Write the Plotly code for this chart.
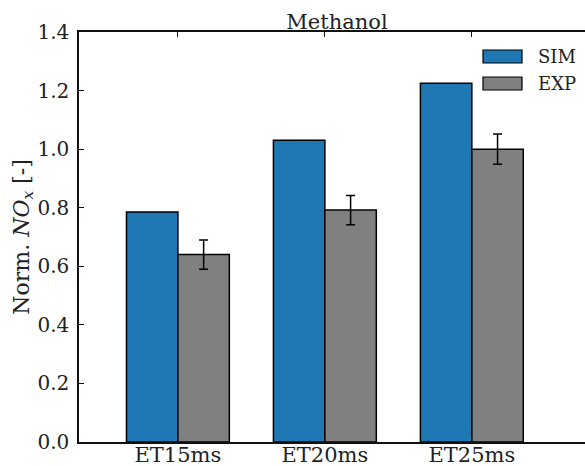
import plotly.graph_objects as go

categories = ["ET15ms", "ET20ms", "ET25ms"]
series_names = ["SIM", "EXP"]
sim_values = [0.785, 1.03, 1.225]
exp_values = [0.64, 0.792, 1.0]
exp_errors = [0.05, 0.05, 0.052]
y_ticks = [0.0, 0.2, 0.4, 0.6, 0.8, 1.0, 1.2, 1.4]
y_tick_labels = ["0.0", "0.2", "0.4", "0.6", "0.8", "1.0", "1.2", "1.4"]

colors = {"SIM": "#1f77b4", "EXP": "#808080"}
font_fam = "DejaVu Serif"

fig = go.Figure()
fig.add_trace(go.Bar(
    x=categories, y=sim_values, name=series_names[0],
    marker=dict(color=colors["SIM"], line=dict(color="black", width=1.5)),
    showlegend=False,
))
fig.add_trace(go.Bar(
    x=categories, y=exp_values, name=series_names[1],
    marker=dict(color=colors["EXP"], line=dict(color="black", width=1.5)),
    error_y=dict(type="data", array=exp_errors, color="black", thickness=1.5, width=4.5),
    showlegend=False,
))

# manual legend (rectangular patches like the reference)
L, R, T, B = 79, 585, 32, 442
W, H = R - L, B - T
def px(x):
    return (x - L) / W
def py(y):
    return (B - y) / H

legend_rows = [(series_names[0], 50, 63), (series_names[1], 77, 90)]
for name, y0, y1 in legend_rows:
    fig.add_shape(type="rect", xref="paper", yref="paper",
                  x0=px(483), x1=px(522), y0=py(y1), y1=py(y0),
                  fillcolor=colors[name], line=dict(color="black", width=1.2))
    fig.add_annotation(xref="paper", yref="paper", x=px(536), y=py((y0 + y1) / 2),
                       text=name, showarrow=False, xanchor="left", yanchor="middle",
                       font=dict(family=font_fam, size=18, color="#222"))

fig.update_layout(
    width=585, height=466,
    margin=dict(l=L, r=0, t=T, b=466 - B, autoexpand=False),
    paper_bgcolor="white", plot_bgcolor="white",
    barmode="group", bargap=0.3, bargroupgap=0.0,
    font=dict(family=font_fam, size=20, color="#222"),
    title=dict(text="Methanol", x=337 / 585, xref="container", xanchor="center",
               y=1 - 29 / 466, yref="container", yanchor="bottom",
               font=dict(family=font_fam, size=21, color="#222")),
)
fig.update_xaxes(
    type="category", range=[-0.673, 2.77], automargin=False,
    showline=True, linecolor="#111", linewidth=1.5, mirror="ticks",
    ticks="inside", ticklen=5, tickcolor="#111", tickwidth=1,
    ticklabelstandoff=-7,
    showgrid=False, tickfont=dict(family=font_fam, size=21, color="#222"),
)
fig.update_yaxes(
    range=[0, 1.4], tickvals=y_ticks, ticktext=y_tick_labels, automargin=False,
    showline=True, linecolor="#111", linewidth=1.5, mirror=False,
    ticks="inside", ticklen=5, tickcolor="#111", tickwidth=1,
    showgrid=False, zeroline=False, ticklabelstandoff=4,
    tickfont=dict(family=font_fam, size=20, color="#222"),
    title=dict(text="Norm. <i>NO</i><sub><i>x</i></sub> [-]", standoff=0,
               font=dict(family=font_fam, size=22, color="#222")),
)

fig.write_html("out.html", config={"displayModeBar": False},
               post_script="document.body.style.margin='0';document.body.style.overflow='hidden';")
